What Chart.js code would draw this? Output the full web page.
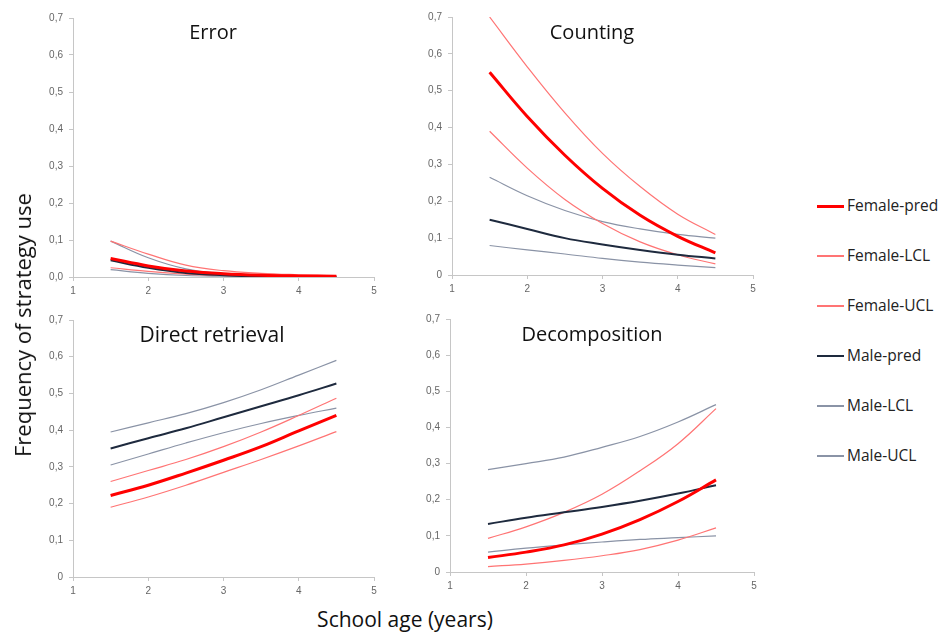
<!DOCTYPE html>
<html>
<head>
<meta charset="utf-8">
<script src="https://cdn.jsdelivr.net/npm/chart.js@4/dist/chart.umd.min.js"></script>
<style>
  body { margin: 0; background: #fff; font-family: "Open Sans", sans-serif; }
  #wrap { position: relative; width: 945px; height: 633px; overflow: hidden; }
  .panel { position: absolute; }
  .ptitle { position: absolute; font-size: 20px; color: #111; transform: translateX(-50%); white-space: nowrap; }
  .axtitle { position: absolute; font-size: 21px; color: #111; white-space: nowrap; }
  #legend { position: absolute; left: 817px; top: 194px; font-size: 15.5px; color: #222; }
  .li { height: 50px; display: flex; align-items: flex-start; }
  .sw { width: 27px; margin-top: 11px; margin-right: 3px; }
</style>
</head>
<body>
<div id="wrap">
  <div class="panel" id="p1" style="left:28px;top:6px;width:356px;height:296px"><canvas id="c1"></canvas></div>
  <div class="panel" id="p2" style="left:407px;top:5px;width:356px;height:295px"><canvas id="c2"></canvas></div>
  <div class="panel" id="p3" style="left:28px;top:308px;width:356px;height:294px"><canvas id="c3"></canvas></div>
  <div class="panel" id="p4" style="left:405px;top:307px;width:359px;height:290px"><canvas id="c4"></canvas></div>
  <div class="ptitle" style="left:213px;top:18px">Error</div>
  <div class="ptitle" style="left:592px;top:18px">Counting</div>
  <div class="ptitle" style="left:212px;top:320px;font-size:21px">Direct retrieval</div>
  <div class="ptitle" style="left:592px;top:320px">Decomposition</div>
  <div class="axtitle" style="left:22px;top:325px;font-size:22px;transform:translate(-50%,-50%) rotate(-90deg)">Frequency of strategy use</div>
  <div class="axtitle" style="left:405px;top:619px;transform:translate(-50%,-50%)">School age (years)</div>
  <div id="legend"></div>
</div>
<script>
// school age (years) at which the curves were read
const ages = [1.5, 2, 2.5, 3, 3.5, 4, 4.5];

// Error
const errorFemalePred = [0.05, 0.03, 0.016, 0.009, 0.005, 0.003, 0.002];
const errorFemaleLCL  = [0.025, 0.015, 0.008, 0.004, 0.002, 0.001, 0.001];
const errorFemaleUCL  = [0.097, 0.062, 0.032, 0.017, 0.01, 0.006, 0.003];
const errorMalePred   = [0.045, 0.025, 0.011, 0.005, 0.002, 0.001, 0.0005];
const errorMaleLCL    = [0.02, 0.01, 0.004, 0.002, 0.001, 0.0005, 0.0002];
const errorMaleUCL    = [0.097, 0.052, 0.022, 0.009, 0.004, 0.002, 0.001];

// Counting
const countFemalePred = [0.55, 0.43, 0.325, 0.235, 0.162, 0.105, 0.06];
const countFemaleLCL  = [0.39, 0.29, 0.205, 0.14, 0.09, 0.055, 0.03];
const countFemaleUCL  = [0.70, 0.565, 0.44, 0.33, 0.24, 0.165, 0.11];
const countMalePred   = [0.15, 0.125, 0.10, 0.083, 0.068, 0.055, 0.045];
const countMaleLCL    = [0.08, 0.068, 0.057, 0.045, 0.035, 0.027, 0.02];
const countMaleUCL    = [0.265, 0.215, 0.175, 0.145, 0.125, 0.11, 0.10];

// Direct retrieval
const retrFemalePred = [0.222, 0.25, 0.283, 0.318, 0.355, 0.398, 0.44];
const retrFemaleLCL  = [0.19, 0.218, 0.25, 0.285, 0.32, 0.357, 0.396];
const retrFemaleUCL  = [0.26, 0.29, 0.32, 0.355, 0.395, 0.44, 0.487];
const retrMalePred   = [0.35, 0.378, 0.405, 0.435, 0.465, 0.495, 0.527];
const retrMaleLCL    = [0.305, 0.335, 0.365, 0.393, 0.418, 0.44, 0.46];
const retrMaleUCL    = [0.395, 0.42, 0.445, 0.475, 0.51, 0.55, 0.59];

// Decomposition
const decoFemalePred = [0.04, 0.055, 0.075, 0.105, 0.145, 0.195, 0.255];
const decoFemaleLCL  = [0.015, 0.022, 0.032, 0.045, 0.062, 0.088, 0.122];
const decoFemaleUCL  = [0.093, 0.125, 0.165, 0.215, 0.28, 0.355, 0.452];
const decoMalePred   = [0.133, 0.15, 0.165, 0.18, 0.197, 0.217, 0.24];
const decoMaleLCL    = [0.055, 0.066, 0.075, 0.083, 0.09, 0.095, 0.10];
const decoMaleUCL    = [0.283, 0.30, 0.318, 0.345, 0.375, 0.415, 0.463];

const seriesNames = ["Female-pred", "Female-LCL", "Female-UCL", "Male-pred", "Male-LCL", "Male-UCL"];
const seriesColors = ["#ff0000", "#ff7474", "#ff7474", "#1e2a3e", "#8a93a6", "#8a93a6"];
const seriesWidths = [3, 1.2, 1.2, 2, 1.2, 1.2];

function toPoints(vals) {
  return vals.map((v, i) => ({ x: ages[i], y: v }));
}

function makePanel(canvasId, valueSets, zeroLabel) {
  // draw female-pred last so it sits on top
  const order = [0, 3, 1, 2, 4, 5];
  const datasets = order.map((k, n) => ({
    label: seriesNames[k],
    data: toPoints(valueSets[k]),
    borderColor: seriesColors[k],
    borderWidth: seriesWidths[k],
    pointRadius: 0,
    tension: 0.4,
    fill: false,
    order: n,
  }));
  new Chart(document.getElementById(canvasId), {
    type: "line",
    data: { datasets: datasets },
    options: {
      responsive: true,
      maintainAspectRatio: false,
      animation: false,
      layout: { padding: { top: 10, right: 10, left: 0, bottom: 0 } },
      plugins: { legend: { display: false }, tooltip: { enabled: false } },
      scales: {
        x: {
          type: "linear",
          min: 1, max: 5,
          afterFit: (s) => { s.height = 25; },
          ticks: { stepSize: 1, color: "#666", font: { size: 10 }, padding: 4 },
          grid: { drawOnChartArea: false, drawTicks: true, tickLength: 4, color: "#c6c6c6" },
          border: { color: "#c6c6c6" },
        },
        y: {
          min: 0, max: 0.7,
          afterFit: (s) => { s.width = 45; },
          ticks: {
            stepSize: 0.1,
            color: "#666",
            font: { size: 10 },
            padding: 6,
            callback: (v) => (Math.abs(v) < 1e-9 ? zeroLabel : v.toFixed(1).replace(".", ",")),
          },
          grid: { drawOnChartArea: false, drawTicks: true, tickLength: 4, color: "#c6c6c6" },
          border: { color: "#c6c6c6" },
        },
      },
    },
  });
}

makePanel("c1", [errorFemalePred, errorFemaleLCL, errorFemaleUCL, errorMalePred, errorMaleLCL, errorMaleUCL], "0,0");
makePanel("c2", [countFemalePred, countFemaleLCL, countFemaleUCL, countMalePred, countMaleLCL, countMaleUCL], "0");
makePanel("c3", [retrFemalePred, retrFemaleLCL, retrFemaleUCL, retrMalePred, retrMaleLCL, retrMaleUCL], "0");
makePanel("c4", [decoFemalePred, decoFemaleLCL, decoFemaleUCL, decoMalePred, decoMaleLCL, decoMaleUCL], "0");

// legend on the right
const legend = document.getElementById("legend");
seriesNames.forEach((name, k) => {
  const row = document.createElement("div");
  row.className = "li";
  const sw = document.createElement("div");
  sw.className = "sw";
  sw.style.borderTop = (k === 0 ? 3 : 2) + "px solid " + seriesColors[k];
  const tx = document.createElement("span");
  tx.textContent = name;
  row.appendChild(sw);
  row.appendChild(tx);
  legend.appendChild(row);
});
</script>
</body>
</html>
